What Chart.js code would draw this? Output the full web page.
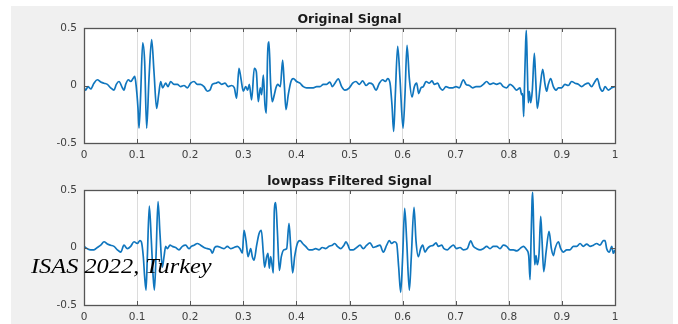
<!DOCTYPE html>
<html>
<head>
<meta charset="utf-8">
<script src="https://cdn.jsdelivr.net/npm/chart.js@4/dist/chart.umd.min.js"></script>
<style>
  html, body { margin: 0; padding: 0; background: #ffffff; }
  body { width: 678px; height: 324px; position: relative; overflow: hidden; }
  #panel { position: absolute; left: 11px; top: 6px; width: 662px; height: 318px; background: #f0f0f0; }
  canvas { position: absolute; left: 11px; }
  #c1 { top: 6px; }
  #c2 { top: 168px; }
  #mark {
    position: absolute; left: 31px; top: 256px;
    font: italic 21px "Liberation Serif", "Times New Roman", serif;
    line-height: 1; color: #000; white-space: nowrap;
    transform: scaleX(1.16); transform-origin: 0 0;
  }
</style>
</head>
<body>
<div id="panel"></div>
<canvas id="c1" width="662" height="156"></canvas>
<canvas id="c2" width="662" height="156"></canvas>
<div id="mark">ISAS 2022, Turkey</div>
<script>
// ===============================
// Data
// ===============================
const xTicks = [0, 0.1, 0.2, 0.3, 0.4, 0.5, 0.6, 0.7, 0.8, 0.9, 1];
const xTickLabels = ["0", "0.1", "0.2", "0.3", "0.4", "0.5", "0.6", "0.7", "0.8", "0.9", "1"];
const yTicks = [-0.5, 0, 0.5];
const yTickLabels = ["-0.5", "0", "0.5"];

const titles = ["Original Signal", "lowpass Filtered Signal"];

const origT = [
  0, 0.003, 0.0075, 0.0126, 0.0188, 0.0251, 0.0314, 0.0377, 0.0439, 0.0502,
  0.0565, 0.0609, 0.0659, 0.0722, 0.0753, 0.0785, 0.0835, 0.0879, 0.0923, 0.0954,
  0.0973, 0.1017, 0.1036, 0.1067, 0.1105, 0.1142, 0.1180, 0.1224, 0.1274, 0.1318,
  0.1368, 0.1406, 0.1444, 0.1481, 0.1538, 0.1582, 0.1632, 0.1695, 0.1758, 0.1820,
  0.1883, 0.1946, 0.2009, 0.2072, 0.2134, 0.2197, 0.2260, 0.2323, 0.2373, 0.2417,
  0.2480, 0.2529, 0.2592, 0.2655, 0.2718, 0.2780, 0.2831, 0.2874, 0.2918, 0.2956,
  0.3000, 0.3044, 0.3082, 0.3113, 0.3157, 0.3207, 0.3245, 0.3282, 0.3320, 0.3345,
  0.3377, 0.3408, 0.3433, 0.3458, 0.3483, 0.3515, 0.3546, 0.3584, 0.3615, 0.3647,
  0.3697, 0.3741, 0.3772, 0.3804, 0.3847, 0.3898, 0.3942, 0.4004, 0.4067, 0.4130,
  0.4193, 0.4256, 0.4318, 0.4381, 0.4444, 0.4507, 0.4569, 0.4632, 0.4676, 0.4726,
  0.4789, 0.4852, 0.4915, 0.4997, 0.5060, 0.5122, 0.5185, 0.5248, 0.5311, 0.5374,
  0.5436, 0.5499, 0.5562, 0.5625, 0.5675, 0.5719, 0.5763, 0.5800, 0.5832, 0.5863,
  0.5907, 0.5951, 0.6008, 0.6045, 0.6083, 0.6127, 0.6177, 0.6221, 0.6265, 0.6303,
  0.6347, 0.6390, 0.6441, 0.6503, 0.6554, 0.6598, 0.6660, 0.6704, 0.6754, 0.6817,
  0.6880, 0.6943, 0.7006, 0.7068, 0.7144, 0.7194, 0.7257, 0.7320, 0.7382, 0.7458,
  0.7521, 0.7583, 0.7646, 0.7709, 0.7772, 0.7834, 0.7897, 0.7960, 0.8023, 0.8085,
  0.8148, 0.8211, 0.8242, 0.8261, 0.8280, 0.8299, 0.8318, 0.8330, 0.8349, 0.8368,
  0.8387, 0.8412, 0.8443, 0.8481, 0.8506, 0.8537, 0.8588, 0.8638, 0.8682, 0.8713,
  0.8744, 0.8788, 0.8839, 0.8889, 0.8933, 0.8996, 0.9058, 0.9121, 0.9184, 0.9246,
  0.9309, 0.9372, 0.9435, 0.9497, 0.9560, 0.9623, 0.9667, 0.9718, 0.9768, 0.9812,
  0.9875, 0.9938, 1.0
];
const origV = [
  -0.02, -0.04, -0.01, -0.03, 0.02, 0.05, 0.03, 0.02, 0.01, -0.02,
  -0.04, 0.01, 0.035, -0.02, -0.04, 0.01, 0.05, 0.035, 0.06, 0.08,
  0.035, -0.20, -0.37, -0.08, 0.37, 0.21, -0.37, 0.06, 0.40, 0.12,
  -0.20, -0.08, 0.035, -0.02, 0.02, -0.01, 0.035, 0.01, 0.01, -0.01,
  0, -0.02, 0.02, 0.035, 0.01, 0.01, -0.01, -0.05, -0.04, 0.01,
  0.02, 0.03, 0.01, 0.02, -0.01, 0, -0.02, -0.11, 0.15, 0.06,
  -0.05, -0.01, -0.04, 0.01, -0.125, 0.15, 0.12, -0.14, -0.02, -0.08,
  0.09, -0.17, -0.24, 0.27, 0.38, 0.01, -0.14, -0.08, -0.02, 0.01,
  -0.01, 0.22, 0.01, -0.21, -0.08, 0.035, 0.06, 0.035, 0.02, -0.01,
  -0.02, -0.02, -0.02, -0.01, -0.01, 0.01, 0.01, 0.03, -0.01, 0.02,
  0.058, -0.01, -0.04, -0.02, 0.02, 0.035, 0.01, 0.04, 0, 0.02,
  0.01, -0.04, 0.02, 0.05, 0.035, 0.06, 0.02, -0.17, -0.40, -0.08,
  0.34, 0.06, -0.37, -0.08, 0.35, 0.06, -0.10, -0.01, 0.02, -0.07,
  -0.02, -0.01, 0.035, 0.02, 0.04, 0.01, 0.02, -0.02, -0.04, -0.01,
  -0.02, -0.02, -0.01, -0.02, 0.05, 0.01, 0, -0.02, -0.01, -0.01,
  0.01, 0.035, 0.01, 0.02, 0.01, 0.02, -0.01, -0.02, 0.01, -0.01,
  -0.04, -0.02, -0.08, -0.07, -0.27, 0.06, 0.38, 0.48, 0.15, -0.15,
  -0.05, -0.15, -0.04, 0.28, 0.06, -0.20, -0.02, 0.14, 0.01, -0.05,
  0.01, 0.06, -0.01, -0.04, -0.02, -0.02, 0.01, 0, 0.035, 0.02,
  0.01, -0.01, 0.01, 0.02, -0.01, 0.035, 0.06, -0.02, -0.05, -0.01,
  -0.04, -0.02, -0.01
];

const lowT = [
  0, 0.0063, 0.0126, 0.0188, 0.0251, 0.0314, 0.0377, 0.0439, 0.0502, 0.0565,
  0.0628, 0.0691, 0.0753, 0.0816, 0.0879, 0.0942, 0.1004, 0.1055, 0.1080, 0.1117,
  0.1143, 0.1168, 0.1193, 0.1230, 0.1268, 0.1299, 0.1325, 0.1356, 0.1394, 0.1431,
  0.1475, 0.1507, 0.1538, 0.1569, 0.1620, 0.1664, 0.1726, 0.1789, 0.1852, 0.1915,
  0.1977, 0.2021, 0.2072, 0.2134, 0.2197, 0.2260, 0.2323, 0.2385, 0.2417, 0.2461,
  0.2511, 0.2574, 0.2637, 0.2699, 0.2762, 0.2825, 0.2888, 0.2938, 0.2982, 0.3013,
  0.3051, 0.3089, 0.3139, 0.3170, 0.3202, 0.3252, 0.3296, 0.3340, 0.3377, 0.3402,
  0.3440, 0.3465, 0.3490, 0.3515, 0.3547, 0.3566, 0.3584, 0.3610, 0.3641, 0.3679,
  0.3716, 0.3766, 0.3817, 0.3861, 0.3892, 0.3930, 0.3967, 0.4018, 0.4068, 0.4118,
  0.4174, 0.4237, 0.4300, 0.4363, 0.4426, 0.4488, 0.4551, 0.4614, 0.4677, 0.4721,
  0.4771, 0.4834, 0.4896, 0.4934, 0.4972, 0.5009, 0.5072, 0.5135, 0.5198, 0.5260,
  0.5323, 0.5386, 0.5449, 0.5512, 0.5574, 0.5637, 0.5700, 0.5750, 0.5794, 0.5844,
  0.5888, 0.5926, 0.5964, 0.6001, 0.6039, 0.6077, 0.6127, 0.6164, 0.6215, 0.6252,
  0.6296, 0.6340, 0.6378, 0.6422, 0.6466, 0.6516, 0.6579, 0.6629, 0.6673, 0.6736,
  0.6780, 0.6842, 0.6893, 0.6955, 0.7018, 0.7081, 0.7144, 0.7219, 0.7282, 0.7332,
  0.7395, 0.7458, 0.7520, 0.7583, 0.7646, 0.7709, 0.7772, 0.7834, 0.7897, 0.7960,
  0.8023, 0.8086, 0.8149, 0.8211, 0.8274, 0.8337, 0.8375, 0.8400, 0.8419, 0.8438,
  0.8450, 0.8469, 0.8488, 0.8513, 0.8538, 0.8570, 0.8601, 0.8626, 0.8658, 0.8702,
  0.8758, 0.8802, 0.8840, 0.8871, 0.8934, 0.8978, 0.9028, 0.9091, 0.9153, 0.9216,
  0.9279, 0.9342, 0.9404, 0.9467, 0.9530, 0.9593, 0.9655, 0.9718, 0.9781, 0.9812,
  0.9844, 0.9894, 0.9938, 0.9969, 1.0
];
const lowV = [
  0.01, -0.01, -0.02, -0.02, 0, 0.02, 0.05, 0.03, 0.02, 0.01,
  -0.02, -0.04, 0.02, -0.01, 0.01, 0.05, 0.035, 0.06, 0.05, -0.08,
  -0.26, -0.37, -0.08, 0.36, 0.06, -0.23, -0.37, -0.08, 0.40, 0.12,
  -0.17, -0.08, 0.01, -0.01, 0.02, 0.01, 0, -0.02, 0.01, 0.02,
  -0.01, 0.01, 0.02, 0.035, 0.02, 0, -0.01, -0.02, -0.05, 0,
  0.01, 0, -0.01, 0.01, -0.01, 0, 0.01, -0.01, -0.05, 0.15,
  0.06, -0.08, -0.01, -0.08, -0.11, 0.02, 0.12, 0.15, -0.05, -0.17,
  -0.08, -0.05, -0.18, -0.08, -0.17, -0.22, 0.32, 0.39, 0.15, -0.20,
  -0.08, -0.02, -0.01, 0.21, 0.01, -0.22, -0.08, 0.035, 0.06, 0.035,
  0.01, -0.02, -0.02, -0.01, -0.02, 0, -0.01, 0.01, 0.02, 0.035,
  0.01, -0.01, 0.02, 0.05, 0.02, -0.02, -0.02, 0, 0.02, -0.01,
  0.02, 0.04, 0, 0.01, 0.02, -0.04, 0.02, 0.06, 0.035, 0.05,
  0.035, -0.17, -0.39, -0.08, 0.34, 0.06, -0.37, -0.08, 0.35, 0.06,
  -0.08, -0.01, 0.02, -0.04, -0.01, 0.01, 0.02, 0.04, 0.01, 0.02,
  -0.01, -0.02, 0, 0.02, -0.01, 0, -0.02, -0.01, 0.058, 0.01,
  -0.01, -0.02, -0.01, 0.01, -0.01, 0.01, 0.01, -0.01, 0.02, 0.01,
  -0.02, -0.02, -0.03, -0.01, 0.01, -0.02, -0.07, -0.28, 0.06, 0.41,
  0.48, 0.15, -0.15, -0.07, -0.15, -0.05, 0.27, 0.06, -0.21, -0.04,
  0.14, -0.01, -0.07, -0.01, 0.05, -0.01, -0.04, -0.02, -0.02, 0.01,
  0.01, 0.035, 0.01, 0.03, 0.01, 0.02, 0.035, 0.02, 0.06, 0.06,
  -0.01, -0.04, 0.01, -0.05, -0.02
];

// ===============================
// Styling helpers
// ===============================
const FONT = "'DejaVu Sans', 'Liberation Sans', Arial, sans-serif";
const LINE_COLOR = "rgb(16, 118, 190)";
const AXIS_COLOR = "#555555";

// white axes face, box + inward tick marks + title over the plot box, MATLAB style
const axesBox = {
  id: "axesBox",
  beforeDraw(chart) {
    const { ctx, chartArea: a } = chart;
    ctx.save();
    ctx.fillStyle = "#ffffff";
    ctx.fillRect(a.left, a.top, a.right - a.left, a.bottom - a.top);
    ctx.restore();
  },
  afterDatasetsDraw(chart, args, opts) {
    const { ctx, chartArea: a, scales } = chart;
    ctx.save();
    ctx.strokeStyle = AXIS_COLOR;
    ctx.lineWidth = 1;
    ctx.beginPath();
    xTicks.forEach(v => {
      const px = Math.round(scales.x.getPixelForValue(v)) + 0.5;
      ctx.moveTo(px, a.top); ctx.lineTo(px, a.top + 4);
      ctx.moveTo(px, a.bottom); ctx.lineTo(px, a.bottom - 4);
    });
    yTicks.forEach(v => {
      const py = Math.round(scales.y.getPixelForValue(v)) + 0.5;
      ctx.moveTo(a.left, py); ctx.lineTo(a.left + 4, py);
      ctx.moveTo(a.right, py); ctx.lineTo(a.right - 4, py);
    });
    ctx.stroke();
    ctx.lineWidth = 1.3;
    ctx.strokeRect(Math.round(a.left) + 0.5, Math.round(a.top) + 0.5,
      Math.round(a.right - a.left), Math.round(a.bottom - a.top));

    if (opts.text) {
      ctx.fillStyle = "#1a1a1a";
      ctx.font = "bold 12.5px " + FONT;
      ctx.textAlign = "center";
      ctx.textBaseline = "middle";
      ctx.fillText(opts.text, (a.left + a.right) / 2, a.top - 8.5);
    }
    ctx.restore();
  }
};

function makeChart(id, title, tArr, vArr) {
  const pts = tArr.map((t, i) => ({ x: t, y: vArr[i] }));
  return new Chart(document.getElementById(id), {
    type: "line",
    data: {
      datasets: [{
        data: pts,
        borderColor: LINE_COLOR,
        borderWidth: 1.7,
        pointRadius: 0,
        cubicInterpolationMode: "monotone",
        fill: false
      }]
    },
    options: {
      responsive: false,
      animation: false,
      devicePixelRatio: 1,
      layout: { padding: { left: 0, right: 58, top: 22, bottom: 0 } },
      plugins: {
        legend: { display: false },
        tooltip: { enabled: false },
        title: { display: false },
        axesBox: { text: title }
      },
      scales: {
        x: {
          type: "linear",
          min: 0,
          max: 1,
          afterBuildTicks: s => { s.ticks = xTicks.map(v => ({ value: v })); },
          afterFit: s => { s.height = 19; },
          ticks: {
            autoSkip: false,
            maxRotation: 0,
            padding: 6,
            color: "#404040",
            font: { family: FONT, size: 10.5 },
            callback: v => xTickLabels[xTicks.indexOf(v)]
          },
          grid: { color: "#dcdcdc", drawTicks: false },
          border: { display: false }
        },
        y: {
          min: -0.5,
          max: 0.5,
          afterBuildTicks: s => { s.ticks = yTicks.map(v => ({ value: v })); },
          afterFit: s => { s.width = 73; },
          ticks: {
            padding: 7,
            color: "#404040",
            font: { family: FONT, size: 10.5 },
            callback: v => yTickLabels[yTicks.indexOf(v)]
          },
          grid: { display: false, drawTicks: false },
          border: { display: false }
        }
      }
    },
    plugins: [axesBox]
  });
}

makeChart("c1", titles[0], origT, origV);
makeChart("c2", titles[1], lowT, lowV);
</script>
</body>
</html>
